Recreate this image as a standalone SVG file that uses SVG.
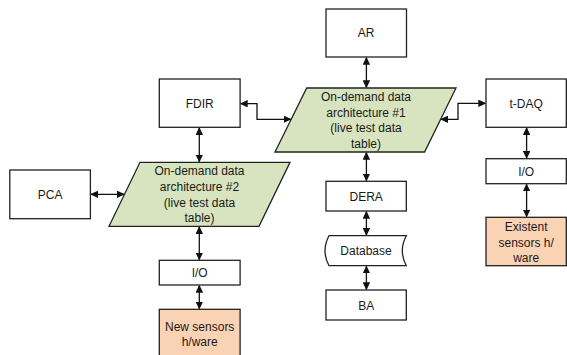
<svg xmlns="http://www.w3.org/2000/svg" width="567" height="355" viewBox="0 0 567 355">
<style>
.b{fill:#fff;stroke:#222;stroke-width:1.3}
.g{fill:#d8e4bf;stroke:#222;stroke-width:1.3}
.o{fill:#fad3b4;stroke:#222;stroke-width:1.3}
text{font-family:"Liberation Sans",Arial,sans-serif;font-size:12px;fill:#1a1a1a;text-anchor:middle}
.c{fill:none;stroke:#111;stroke-width:1.3;marker-start:url(#a);marker-end:url(#a)}
</style>
<defs>
<marker id="a" viewBox="0 0 10 10" refX="9" refY="5" markerWidth="8" markerHeight="7.5" markerUnits="userSpaceOnUse" orient="auto-start-reverse" preserveAspectRatio="none">
<path d="M0,0 L10,5 L0,10 Z" fill="#111"/>
</marker>
</defs>
<g id="connectors">
<path class="c" d="M366.4,57.5 V87.5"/>
<path class="c" d="M240.5,103.7 H257 V119.3 H290.8"/>
<path class="c" d="M485.5,103.3 H458 V119.3 H441"/>
<path class="c" d="M199.3,127.8 V161.8"/>
<path class="c" d="M91,194.3 H124"/>
<path class="c" d="M199.3,226.8 V259.8"/>
<path class="c" d="M199.3,285.5 V308.8"/>
<path class="c" d="M366.4,152.5 V180.8"/>
<path class="c" d="M366.4,211.5 V235.2"/>
<path class="c" d="M366.4,266.2 V289.5"/>
<path class="c" d="M526.6,127.8 V158.2"/>
<path class="c" d="M526.6,184.2 V216.8"/>
</g>
<g id="AR"><rect class="b" x="326" y="9" width="80.5" height="48"/><text x="366.2" y="37">AR</text></g>
<g id="FDIR"><rect class="b" x="159.3" y="79" width="80.8" height="48.3"/><text x="199.7" y="108">FDIR</text></g>
<g id="tDAQ"><rect class="b" x="486" y="79" width="80.3" height="48.3"/><text x="526.2" y="107.5">t-DAQ</text></g>
<g id="ODA1"><polygon class="g" points="306.7,88 456,88 424.6,152 275,152"/>
<text x="366" y="101">On-demand data</text><text x="366" y="117">architecture #1</text><text x="366" y="132">(live test data</text><text x="366" y="148">table)</text></g>
<g id="ODA2"><polygon class="g" points="140,162.3 290,162.3 259,226.3 109,226.3"/>
<text x="199.5" y="175">On-demand data</text><text x="199.5" y="191">architecture #2</text><text x="199.5" y="206.6">(live test data</text><text x="199.5" y="222.3">table)</text></g>
<g id="PCA"><rect class="b" x="9.8" y="170" width="80.6" height="48.7"/><text x="50.1" y="198.6">PCA</text></g>
<g id="DERA"><rect class="b" x="326" y="181.3" width="80.3" height="29.7"/><text x="366.2" y="201.3">DERA</text></g>
<g id="Database"><path class="b" d="M329,235.7 H406.3 Q398.3,250.7 406.3,265.7 H329 Q321,250.7 329,235.7 Z"/><text x="366" y="255">Database</text></g>
<g id="BA"><rect class="b" x="326" y="290" width="80.3" height="30"/><text x="366.2" y="309.6">BA</text></g>
<g id="IO1"><rect class="b" x="486" y="158.7" width="80.3" height="25"/><text x="526.2" y="176">I/O</text></g>
<g id="Existent"><rect class="o" x="486" y="217.3" width="80.3" height="48.4"/><text x="526.2" y="231">Existent</text><text x="526.2" y="246.6">sensors h/</text><text x="526.2" y="262.3">ware</text></g>
<g id="IO2"><rect class="b" x="159.3" y="260.3" width="80.8" height="24.7"/><text x="199.7" y="277">I/O</text></g>
<g id="NewSensors"><rect class="o" x="159.3" y="309.3" width="80.8" height="50"/><text x="199.7" y="331">New sensors</text><text x="199.7" y="346">h/ware</text></g>
</svg>
